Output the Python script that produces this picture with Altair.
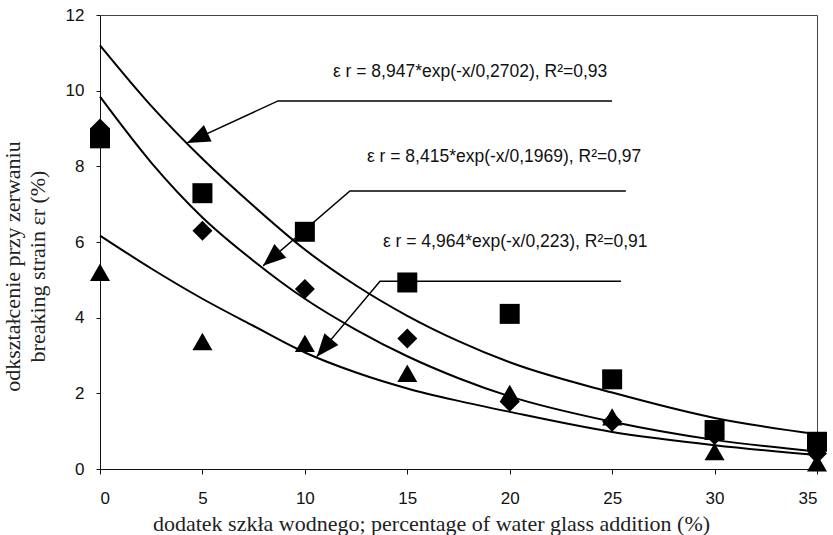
import math
import altair as alt
import pandas as pd

# ---------------- data ----------------
x_pts = [0, 5, 10, 15, 20, 25, 30, 35]
squares = [8.74, 7.29, 6.27, 4.93, 4.10, 2.37, 1.03, 0.72]
diamonds = [9.00, 6.30, 4.76, 3.45, 1.78, 1.25, 0.90, 0.41]
triangles = [5.20, 3.37, 3.32, 2.53, 2.00, 1.38, 0.46, 0.16]

# fitted curves
curve_x = [0, 2.5, 5, 7.5, 10, 12.5, 15, 17.5, 20, 25, 30, 35]
curve_top = [11.2, 9.6, 8.2, 6.95, 5.8, 4.85, 4.05, 3.38, 2.82, 2.02, 1.35, 0.92]
curve_mid = [9.84, 8.1, 6.65, 5.5, 4.5, 3.68, 2.98, 2.4, 1.92, 1.25, 0.77, 0.46]
curve_low = [6.17, 5.3, 4.5, 3.78, 3.08, 2.55, 2.13, 1.8, 1.51, 0.98, 0.63, 0.37]

# annotations (data units)
labels = [
    "ε r = 8,947*exp(-x/0,2702), R²=0,93",
    "ε r = 8,415*exp(-x/0,1969), R²=0,97",
    "ε r = 4,964*exp(-x/0,223), R²=0,91",
]
label_x = [11.37, 13.03, 13.81]
label_y = [10.49, 8.25, 6.00]
line_x_end = [24.99, 25.67, 25.43]
line_x_elbow = [8.69, 12.20, 13.67]
line_y = [9.73, 7.35, 4.96]
tip_x = [4.25, 7.96, 10.58]
tip_y = [8.62, 5.37, 2.97]

x_ticks = [0, 5, 10, 15, 20, 25, 30, 35]
y_ticks = [0, 2, 4, 6, 8, 10, 12]

W, H = 717, 454
XDOM, YDOM = [0, 35], [0, 12]

# ---------------- tables ----------------
pts = pd.DataFrame(
    [{"x": x, "y": v, "s": "square"} for x, v in zip(x_pts, squares)]
    + [{"x": x, "y": v, "s": "diamond"} for x, v in zip(x_pts, diamonds)]
    + [{"x": x, "y": v, "s": "triangle"} for x, v in zip(x_pts, triangles)]
)

curves = pd.DataFrame(
    [{"x": x, "y": v, "c": "top"} for x, v in zip(curve_x, curve_top)]
    + [{"x": x, "y": v, "c": "mid"} for x, v in zip(curve_x, curve_mid)]
    + [{"x": x, "y": v, "c": "low"} for x, v in zip(curve_x, curve_low)]
)

arrow_rows = []
head_rows = []
sx = W / (XDOM[1] - XDOM[0])
sy = H / (YDOM[1] - YDOM[0])
for i in range(3):
    arrow_rows += [
        {"a": i, "o": 0, "x": line_x_end[i], "y": line_y[i]},
        {"a": i, "o": 1, "x": line_x_elbow[i], "y": line_y[i]},
        {"a": i, "o": 2, "x": tip_x[i], "y": tip_y[i]},
    ]
    dx = (tip_x[i] - line_x_elbow[i]) * sx
    dy = -(tip_y[i] - line_y[i]) * sy
    ang = math.degrees(math.atan2(dx, -dy)) % 360
    head_rows.append({"x": tip_x[i], "y": tip_y[i], "ang": ang})
arrows = pd.DataFrame(arrow_rows)
heads = pd.DataFrame(head_rows)
texts = pd.DataFrame({"x": label_x, "y": label_y, "t": labels})

# ---------------- scales / axes ----------------
xs = alt.Scale(domain=XDOM, nice=False, zero=False)
ys = alt.Scale(domain=YDOM, nice=False, zero=False)

x_axis = alt.Axis(
    values=x_ticks, grid=False, tickSize=5, labelPadding=16,
    labelFont="Liberation Sans", labelFontSize=17, labelColor="#111",
    domainColor="#111", tickColor="#111",
    title="dodatek szkła wodnego; percentage of water glass addition (%)",
    titleFont="Liberation Serif", titleFontSize=22, titleFontWeight="normal",
    titleColor="#222", titleX=331, titleY=54, titleBaseline="middle",
    titleAlign="center",
)
y_axis = alt.Axis(
    values=y_ticks, grid=False, tickSize=4, labelPadding=12,
    labelFont="Liberation Sans", labelFontSize=17, labelColor="#111",
    domainColor="#111", tickColor="#111",
    title=["odkształcenie przy zerwaniu", "breaking strain εr (%)"],
    titleFont="Liberation Serif", titleFontSize=22, titleFontWeight="normal",
    titleColor="#222", titleLineHeight=25, titleAngle=270,
    titleX=-98, titleY=251, titleBaseline="top", titleAlign="center",
)

X = alt.X("x:Q", scale=xs, axis=x_axis)
Y = alt.Y("y:Q", scale=ys, axis=y_axis)
Xn = alt.X("x:Q", scale=xs)
Yn = alt.Y("y:Q", scale=ys)

curve_layer = alt.Chart(curves).mark_line(
    interpolate="monotone", color="black", strokeWidth=2
).encode(x=X, y=Y, detail="c:N")

arrow_layer = alt.Chart(arrows).mark_line(
    color="black", strokeWidth=1.5
).encode(x=Xn, y=Yn, detail="a:N", order="o:Q")

head_layer = alt.Chart(heads).mark_point(
    shape="M0,0L-0.8,2L0.8,2Z", filled=True, color="black", opacity=1, size=520
).encode(x=Xn, y=Yn, angle=alt.Angle("ang:Q", scale=None))

point_layer = alt.Chart(pts).mark_point(
    filled=True, color="black", opacity=1, size=400
).encode(
    x=Xn, y=Yn,
    shape=alt.Shape(
        "s:N",
        scale=alt.Scale(domain=["square", "diamond", "triangle"],
                        range=["square", "diamond", "triangle-up"]),
        legend=None,
    ),
)

text_layer = alt.Chart(texts).mark_text(
    align="left", baseline="middle", font="Liberation Sans", fontSize=17.5,
    color="#111"
).encode(x=Xn, y=Yn, text="t:N")

chart = (
    alt.layer(curve_layer, arrow_layer, head_layer, point_layer, text_layer)
    .properties(
        width=W, height=H,
        autosize=alt.AutoSizeParams(type="none"),
        padding={"left": 100, "top": 15, "right": 16, "bottom": 66},
        background="white",
    )
    .configure_view(stroke="#444", strokeWidth=1)
)

chart.save("out.html", embed_options={"renderer": "svg", "actions": False})
